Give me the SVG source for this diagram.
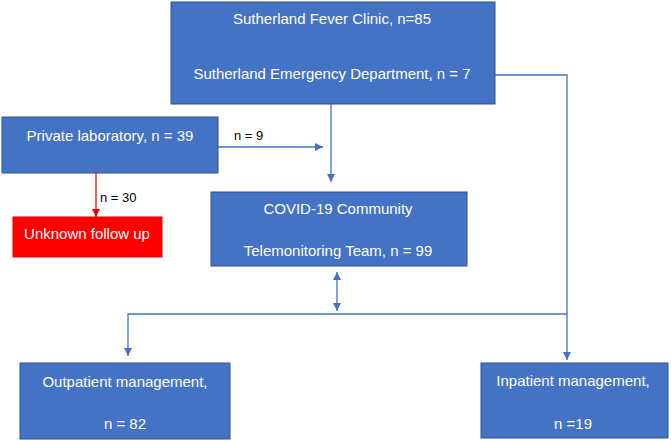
<svg xmlns="http://www.w3.org/2000/svg" width="671" height="442" viewBox="0 0 671 442">
<style>
.box{fill:#4472C4;stroke:#2F528F;stroke-width:1}
.red{fill:#FF0000;stroke:#E00000;stroke-width:1}
.t{font-family:"Liberation Sans",Arial,sans-serif;font-size:15px;fill:#FFFFFF;text-anchor:middle}
.lbl{font-family:"Liberation Sans",Arial,sans-serif;font-size:13px;fill:#000000}
.ln{fill:none;stroke:#4472C4;stroke-width:1.3}
.lnr{fill:none;stroke:#FF0000;stroke-width:1.3}
</style>
<defs>
<marker id="ab" viewBox="0 0 10 10" refX="10" refY="5" markerWidth="8" markerHeight="8" markerUnits="userSpaceOnUse" orient="auto-start-reverse"><path d="M0,0 L10,5 L0,10 z" fill="#4472C4"/></marker>
<marker id="ar" viewBox="0 0 10 10" refX="10" refY="5" markerWidth="8" markerHeight="8" markerUnits="userSpaceOnUse" orient="auto"><path d="M0,0 L10,5 L0,10 z" fill="#FF0000"/></marker>
</defs>
<rect width="671" height="442" fill="#FFFFFF"/>
<g id="connectors">
<path class="ln" d="M331,104 V182" marker-end="url(#ab)"/>
<path class="ln" d="M218,147 H323" marker-end="url(#ab)"/>
<path class="lnr" d="M96,173 V217" marker-end="url(#ar)"/>
<path class="ln" d="M337,272 V311" marker-start="url(#ab)" marker-end="url(#ab)"/>
<path class="ln" d="M495,75 H567 V360" marker-end="url(#ab)"/>
<path class="ln" d="M567,314 H128 V356" marker-end="url(#ab)"/>
<text class="lbl" x="234" y="140">n = 9</text>
<text class="lbl" x="100" y="202">n = 30</text>
</g>
<g id="fever">
<rect class="box" x="171" y="2" width="324" height="102"/>
<text class="t" x="332" y="24">Sutherland Fever Clinic, n=85</text>
<text class="t" x="332" y="79">Sutherland Emergency Department, n = 7</text>
</g>
<g id="private">
<rect class="box" x="2" y="117" width="216" height="56"/>
<text class="t" x="110" y="141">Private laboratory, n = 39</text>
</g>
<g id="unknown">
<rect class="red" x="13" y="217" width="149" height="40"/>
<text class="t" x="87" y="239">Unknown follow up</text>
</g>
<g id="covid">
<rect class="box" x="211" y="192" width="256" height="74"/>
<text class="t" x="338" y="214">COVID-19 Community</text>
<text class="t" x="338" y="256">Telemonitoring Team, n = 99</text>
</g>
<g id="outpatient">
<rect class="box" x="20" y="363" width="210" height="76"/>
<text class="t" x="125" y="387">Outpatient management,</text>
<text class="t" x="125" y="429">n = 82</text>
</g>
<g id="inpatient">
<rect class="box" x="481" y="363" width="187" height="75"/>
<text class="t" x="573" y="386">Inpatient management,</text>
<text class="t" x="573" y="429">n =19</text>
</g>
</svg>
